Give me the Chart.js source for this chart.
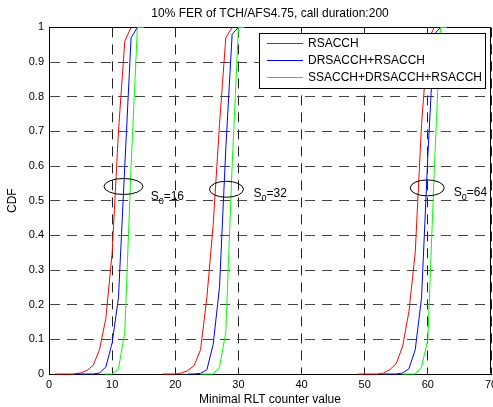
<!DOCTYPE html>
<html><head><meta charset="utf-8">
<script src="https://cdn.jsdelivr.net/npm/chart.js@4.4.1/dist/chart.umd.min.js"></script>
<style>html,body{margin:0;padding:0;background:#fff;overflow:hidden}#wrap{width:493px;height:407px;position:relative}</style>
</head><body><div id="wrap"><canvas id="c" width="493" height="407"></canvas></div>
<script>
const chartTitle = '10% FER of TCH/AFS4.75, call duration:200';
const xAxisLabel = 'Minimal RLT counter value';
const yAxisLabel = 'CDF';
const seriesNames = ['RSACCH', 'DRSACCH+RSACCH', 'SSACCH+DRSACCH+RSACCH'];
const seriesColors = ['#ff0000', '#0000ff', '#00ff00'];
const xTickLabels = ['0', '10', '20', '30', '40', '50', '60', '70'];
const yTickLabels = ['0', '0.1', '0.2', '0.3', '0.4', '0.5', '0.6', '0.7', '0.8', '0.9', '1'];

// three groups per series: S0=16, S0=32, S0=64
const rsacchX = [
  [1, 4, 5, 6, 7, 8, 9, 10, 11, 12, 13],
  [18, 20, 21, 22, 23, 24, 25, 26, 27, 28, 29],
  [49, 52, 53, 54, 55, 56, 57, 58, 59, 60, 61]
];
const rsacchY = [
  [0, 0, 0.003, 0.01, 0.025, 0.07, 0.16, 0.35, 0.7, 0.96, 1],
  [0, 0, 0.003, 0.01, 0.025, 0.07, 0.22, 0.43, 0.72, 0.97, 1],
  [0, 0, 0.003, 0.013, 0.03, 0.08, 0.18, 0.35, 0.72, 0.96, 1]
];
const drsacchX = [
  [4, 7, 8, 9, 10, 11, 12, 13, 14],
  [22, 23, 24, 25, 26, 27, 28, 29, 30],
  [53, 55, 56, 57, 58, 59, 60, 61, 62]
];
const drsacchY = [
  [0, 0, 0.003, 0.02, 0.09, 0.22, 0.6, 0.97, 1],
  [0, 0, 0.002, 0.012, 0.085, 0.25, 0.65, 0.98, 1],
  [0, 0, 0.003, 0.015, 0.07, 0.22, 0.63, 0.98, 1]
];
const ssacchX = [
  [9, 10, 11, 12, 13, 14, 15],
  [24, 26, 27, 28, 29, 30, 31],
  [56, 58, 59, 60, 61, 62, 63]
];
const ssacchY = [
  [0, 0, 0.015, 0.12, 0.6, 1, 1],
  [0, 0, 0.02, 0.12, 0.6, 1, 1],
  [0, 0, 0.02, 0.1, 0.58, 1, 1]
];

// annotations
const ellipseX = [11.8, 28.1, 59.9];
const ellipseY = [0.541, 0.533, 0.537];
const s0Values = ['16', '32', '64'];
const s0LabelX = [16.1, 32.4, 64.1];
const s0LabelY = [0.501, 0.51, 0.513];

const FONT = '"Liberation Sans", Arial, Helvetica, sans-serif';

function toPoints(xs, ys) {
  const pts = [];
  xs.forEach((grp, g) => {
    if (g > 0) pts.push({x: (xs[g - 1][xs[g - 1].length - 1] + grp[0]) / 2, y: null});
    grp.forEach((x, i) => pts.push({x: x, y: ys[g][i]}));
  });
  return pts;
}

const boxPlugin = {
  id: 'boxPlugin',
  beforeDatasetsDraw(chart) {
    const {ctx, chartArea: a} = chart;
    ctx.save();
    ctx.strokeStyle = '#000';
    ctx.lineWidth = 1;
    ctx.beginPath();
    ctx.moveTo(Math.round(a.left) + 0.5, Math.round(a.top) + 0.5);
    ctx.lineTo(Math.round(a.right) - 0.5, Math.round(a.top) + 0.5);
    ctx.lineTo(Math.round(a.right) - 0.5, Math.round(a.bottom) - 0.5);
    ctx.stroke();
    ctx.restore();
  },
  afterDatasetsDraw(chart) {
    const {ctx, scales: {x, y}} = chart;
    ctx.save();
    // ellipses and S0 labels
    ctx.strokeStyle = '#000';
    ctx.lineWidth = 1;
    ellipseX.forEach((ex, i) => {
      const cx = x.getPixelForValue(ex), cy = y.getPixelForValue(ellipseY[i]);
      const rx = i === 0 ? 19.5 : 17, ry = 8;
      ctx.beginPath();
      ctx.ellipse(cx, cy, rx, ry, 0, 0, Math.PI * 2);
      ctx.stroke();
      const lx = x.getPixelForValue(s0LabelX[i]), ly = y.getPixelForValue(s0LabelY[i]);
      ctx.fillStyle = '#000';
      ctx.textBaseline = 'alphabetic';
      ctx.textAlign = 'left';
      ctx.font = '12px ' + FONT;
      ctx.fillText('S', lx, ly);
      const sw = ctx.measureText('S').width;
      ctx.font = '9px ' + FONT;
      ctx.fillText('0', lx + sw, ly + 4);
      const zw = ctx.measureText('0').width;
      ctx.font = '12px ' + FONT;
      ctx.fillText('=' + s0Values[i], lx + sw + zw, ly);
    });
    // legend box
    const L = 259, T = 33, R = 486, B = 89;
    ctx.fillStyle = '#fff';
    ctx.fillRect(L, T, R - L, B - T);
    ctx.strokeStyle = '#000';
    ctx.lineWidth = 1;
    ctx.strokeRect(L + 0.5, T + 0.5, R - L - 1, B - T - 1);
    const rows = [43.5, 60.5, 77.5];
    ctx.font = '12px ' + FONT;
    ctx.textBaseline = 'middle';
    ctx.textAlign = 'left';
    seriesNames.forEach((n, i) => {
      ctx.strokeStyle = seriesColors[i];
      ctx.beginPath();
      ctx.moveTo(267, rows[i]);
      ctx.lineTo(303, rows[i]);
      ctx.stroke();
      ctx.fillStyle = '#000';
      ctx.fillText(n, 308, rows[i]);
    });
    ctx.restore();
  }
};

const allX = [rsacchX, drsacchX, ssacchX];
const allY = [rsacchY, drsacchY, ssacchY];

new Chart(document.getElementById('c'), {
  type: 'line',
  data: {
    datasets: seriesNames.map((n, i) => ({
      label: n,
      data: toPoints(allX[i], allY[i]),
      borderColor: seriesColors[i],
      backgroundColor: seriesColors[i],
      borderWidth: 1,
      pointRadius: 0,
      pointHoverRadius: 0,
      tension: 0,
      spanGaps: false,
      fill: false,
      clip: false,
      order: 2 - i
    }))
  },
  options: {
    responsive: false,
    animation: false,
    devicePixelRatio: 1,
    events: [],
    layout: {padding: {left: 0, right: 2, top: 0, bottom: 0}},
    plugins: {
      legend: {display: false},
      tooltip: {enabled: false},
      title: {
        display: true,
        fullSize: false,
        text: chartTitle,
        color: '#000',
        font: {family: FONT, size: 12, weight: 'normal'},
        padding: {top: 6, bottom: 7}
      }
    },
    scales: {
      x: {
        type: 'linear',
        min: 0, max: 70,
        ticks: {
          stepSize: 10,
          autoSkip: false,
          maxRotation: 0,
          color: '#000',
          padding: 4,
          font: {family: FONT, size: 11},
          callback: (v, i) => xTickLabels[i]
        },
        grid: {color: '#222', lineWidth: 1, drawTicks: false},
        border: {display: true, color: '#000', width: 1, dash: [10, 7]},
        title: {display: true, text: xAxisLabel, color: '#000', font: {family: FONT, size: 12}, padding: {top: 0, bottom: 0}},
        afterFit: s => { s.height = 33; s.paddingRight = 0; s.paddingLeft = 0; }
      },
      y: {
        type: 'linear',
        min: 0, max: 1,
        ticks: {
          stepSize: 0.1,
          color: '#000',
          padding: 5,
          font: {family: FONT, size: 11},
          callback: (v, i) => yTickLabels[i]
        },
        grid: {color: '#444', lineWidth: 1, drawTicks: false},
        border: {display: true, color: '#000', width: 1, dash: [10, 7]},
        title: {display: true, text: yAxisLabel, color: '#000', font: {family: FONT, size: 12}, padding: {top: 5, bottom: 0}},
        afterFit: s => { s.width = 49; }
      }
    }
  },
  plugins: [boxPlugin]
});
</script>
</body></html>
